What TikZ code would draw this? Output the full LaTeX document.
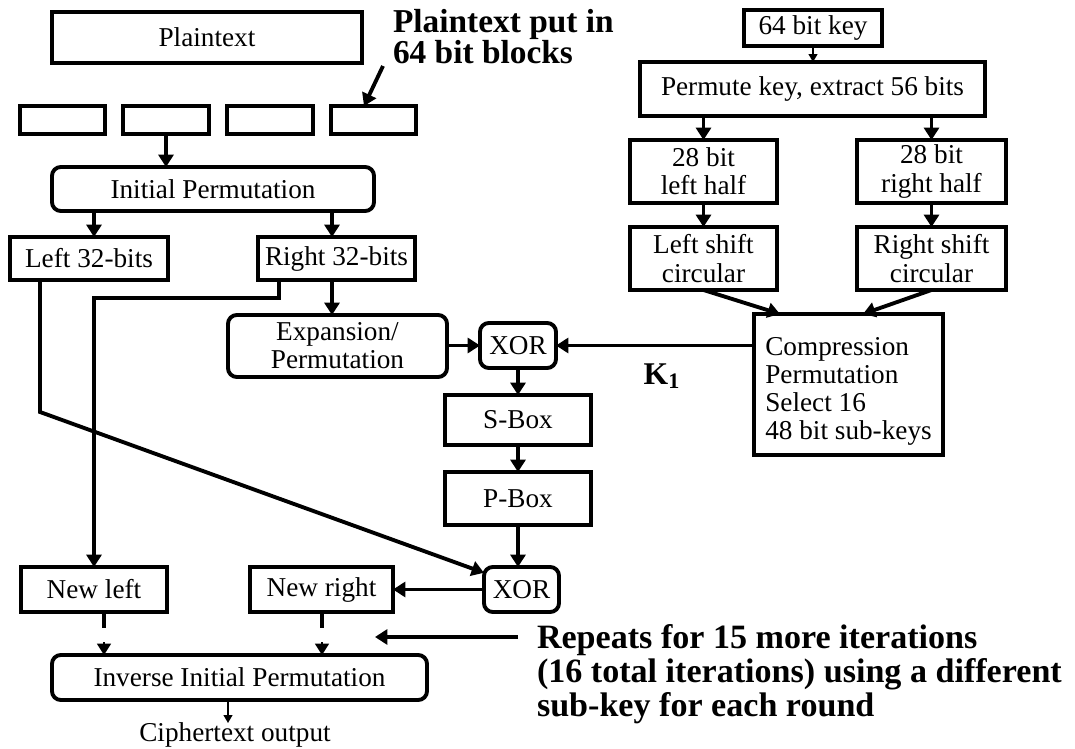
\documentclass[tikz,border=0pt]{standalone}
\usepackage{fontspec}
\setmainfont{Liberation Serif}
\usetikzlibrary{arrows.meta}
\newcommand\mkbox[7]{\node[#1, minimum width={(#4-#2)*0.02cm}, minimum height={(#5-#3)*0.02cm}] (#6) at ({(#2+#4)/2},{(#3+#5)/2}) {#7};}
\begin{document}
\begin{tikzpicture}[x=0.02cm,y=-0.02cm,
  font=\fontsize{15.5}{16}\selectfont,
  bx/.style={draw, line width=2.2pt, inner sep=0pt, outer sep=0pt, align=center},
  rbx/.style={bx, rounded corners=5pt},
  arr/.style={line width=2.2pt, -{Triangle[length=7pt,width=8.5pt]}},
  tarr/.style={line width=0.9pt, -{Triangle[length=4.5pt,width=5pt]}},
  headonly/.style={line width=0.9pt, -{Triangle[length=6.5pt,width=8pt]}},
  ln/.style={line width=2.2pt},
  ann/.style={font=\fontsize{19}{17.6}\selectfont\bfseries, align=left, inner sep=0pt, outer sep=0pt}]
\useasboundingbox (0,0) rectangle (1075,749);

% left column (data path)
\mkbox{bx}{52}{12}{362}{63}{pt}{Plaintext}
\mkbox{bx}{20}{106}{105}{134}{b1}{}
\mkbox{bx}{123}{106}{209}{134}{b2}{}
\mkbox{bx}{227}{106}{313}{134}{b3}{}
\mkbox{bx}{331}{106}{416}{134}{b4}{}
\mkbox{rbx}{52}{167}{374}{211}{ip}{Initial Permutation}
\mkbox{bx}{10}{237}{168}{280}{left32}{Left 32-bits}
\mkbox{bx}{258}{237}{415}{280}{right32}{Right 32-bits}
\mkbox{rbx}{228}{315}{447}{377}{exp}{Expansion/\\Permutation}
\mkbox{rbx}{480}{323}{556}{368}{xorA}{XOR}
\mkbox{bx}{445}{395}{591}{445}{sbox}{S-Box}
\mkbox{bx}{445}{472}{591}{525}{pbox}{P-Box}
\mkbox{rbx}{484}{567}{559}{612}{xorB}{XOR}
\mkbox{bx}{21}{567}{167}{612}{newleft}{New left}
\mkbox{bx}{250}{567}{393}{612}{newright}{New right}
\mkbox{rbx}{52}{655}{427}{700}{iip}{Inverse Initial Permutation}

% key schedule
\mkbox{bx}{744}{10}{882}{46}{key}{64 bit key}
\mkbox{bx}{640}{62}{985}{116}{perm}{Permute key, extract 56 bits}
\mkbox{bx}{630}{140}{777}{203}{halfL}{28 bit\\left half}
\mkbox{bx}{857}{140}{1006}{203}{halfR}{28 bit\\right half}
\mkbox{bx}{630}{227}{777}{290}{shL}{Left shift\\circular}
\mkbox{bx}{857}{227}{1006}{290}{shR}{Right shift\\circular}
\node[bx, align=left, minimum width={189*0.02cm}, minimum height={141*0.02cm}] (comp) at (848.5,384.5) {\rule{0pt}{18pt}Compression\\Permutation\\Select 16\\48 bit sub-keys};

% annotations
\node[ann, anchor=north west] (annA) at (393,9) {Plaintext put in\\64 bit blocks};
\node[ann, anchor=north west, font=\fontsize{19.4}{19.5}\selectfont\bfseries] (rep) at (537,624) {Repeats for 15 more iterations\\(16 total iterations) using a different\\sub-key for each round};
\node[font=\fontsize{18}{19}\selectfont\bfseries, inner sep=0pt] (kone) at (662,376) {K\textsubscript{1}};
\node[inner sep=0pt, anchor=base] (ct) at (235,741) {Ciphertext output};
\coordinate (annA-tail) at (383,66);
\coordinate (rep-tail) at (518,637);
\coordinate (rep-head) at (375,637);

% connectors
\draw[arr] (annA-tail) -- (b4.north -| 364,0);
\draw[arr] (b2.south) -- (ip.north -| b2.south);
\draw[arr] (ip.south -| 94,0) -- (left32.north -| 94,0);
\draw[arr] (ip.south -| 332,0) -- (right32.north -| 332,0);
\draw[arr] (left32.south -| 40,0) -- (40,412) -- (xorB.156);
\draw[arr] (right32.south -| 279,0) -- (279,298) -- (94,298) -- (newleft.north -| 94,0);
\draw[arr] (right32.south -| 332,0) -- (exp.north -| 332,0);
\draw[arr] (exp.east |- xorA.west) -- (xorA.west);
\draw[arr] (comp.west |- xorA.east) -- (xorA.east);
\draw[arr] (xorA.south) -- (sbox.north -| xorA.south);
\draw[arr] (sbox.south -| xorA.south) -- (pbox.north -| xorA.south);
\draw[arr] (pbox.south -| xorA.south) -- (xorB.north -| xorA.south);
\draw[arr] (xorB.west) -- (newright.east |- xorB.west);
\draw[ln] (newleft.south -| 104,0) -- (104,628);
\draw[headonly] (104,642) -- (iip.north -| 104,0);
\draw[ln] (newright.south -| 322,0) -- (322,628);
\draw[headonly] (322,642) -- (iip.north -| 322,0);
\draw[tarr] (iip.south -| 228,0) -- (228,723);
\draw[arr] (rep-tail) -- (rep-head);

\draw[tarr] (key.south) -- (perm.north -| key.south);
\draw[arr] (perm.south -| halfL.north) -- (halfL.north);
\draw[arr] (perm.south -| halfR.north) -- (halfR.north);
\draw[arr] (halfL.south) -- (shL.north);
\draw[arr] (halfR.south) -- (shR.north);
\draw[arr] (shL.south) -- (comp.north -| 780,0);
\draw[arr] (shR.south) -- (comp.north -| 863,0);
\end{tikzpicture}
\end{document}
